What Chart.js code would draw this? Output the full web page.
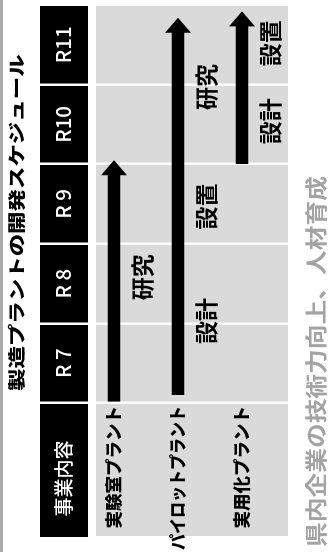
<!DOCTYPE html>
<html>
<head>
<meta charset="utf-8">
<script src="https://cdn.jsdelivr.net/npm/chart.js@4/dist/chart.umd.min.js"></script>
<style>
  html, body { margin: 0; padding: 0; background: #fff; overflow: hidden; }
  #wrap { position: relative; width: 334px; height: 552px; }
  /* chart is drawn upright and turned a quarter turn to the left */
  #schedule {
    position: absolute; left: 0; top: 0;
    width: 552px; height: 334px;
    transform-origin: 0 0;
    transform: translate(0px, 552px) rotate(-90deg);
  }
</style>
</head>
<body>
<div id="wrap"><canvas id="schedule" width="552" height="334"></canvas></div>
<script>
var rows = ['実験室プラント', 'パイロットプラント', '実用化プラント'];
var years = ['R 7', 'R 8', 'R 9', 'R10', 'R11'];
var arrowStart = [0, 0.1, 3];
var arrowEnd = [3.05, 4.84, 4.92];
var phaseRow = [0, 1, 1, 1, 2, 2];
var phaseName = ['研究', '設計', '設置', '研究', '設計', '設置'];
var phaseAt = [1.58, 1.03, 2.47, 3.97, 3.54, 4.52];
var titleText = '製造プラントの開発スケジュール';
var headText = '事業内容';
var noteText = '県内企業の技術力向上、人材育成';

var FONT = "'Noto Sans CJK JP', 'Noto Sans', sans-serif";
var HEAD_LEN = 15, HEAD_W = 26;

// text drawn a little wider than its font, as in the printed original
function wideText(ctx, text, x, y, sx) {
    ctx.save();
    ctx.translate(x, y);
    ctx.scale(sx, 1);
    ctx.fillText(text, 0, 0);
    ctx.restore();
}

var schedulePlugin = {
    id: 'schedule',

    // backgrounds: grey top rule, black header row, grey body
    beforeDraw: function (chart) {
        var ctx = chart.ctx, area = chart.chartArea;
        var y = chart.scales.y, top = chart.scales.xTop;
        ctx.save();
        ctx.fillStyle = '#ababab';
        ctx.fillRect(0, 0, chart.width, 3);
        ctx.fillStyle = '#000';
        ctx.fillRect(y.left - 1, top.top, area.right - y.left + 1, top.bottom - top.top - 8);
        ctx.fillStyle = '#dadada';
        ctx.fillRect(y.left, area.top, area.right - y.left, area.bottom - area.top);
        ctx.restore();
    },

    // clip the shafts short so the heads can sit on the end
    beforeDatasetDraw: function (chart, args) {
        if (args.index !== 0) return;
        var ctx = chart.ctx;
        ctx.save();
        ctx.beginPath();
        args.meta.data.forEach(function (bar) {
            var p = bar.getProps(['x', 'y', 'base', 'height'], true);
            ctx.rect(p.base, p.y - p.height / 2 - 1, (p.x - HEAD_LEN + 1) - p.base, p.height + 2);
        });
        ctx.clip();
    },

    afterDatasetDraw: function (chart, args) {
        var ctx = chart.ctx;
        if (args.index === 0) {
            ctx.restore();
            ctx.save();
            ctx.fillStyle = '#000';
            args.meta.data.forEach(function (bar) {
                var p = bar.getProps(['x', 'y'], true);
                ctx.beginPath();
                ctx.moveTo(p.x, p.y);
                ctx.lineTo(p.x - HEAD_LEN, p.y - HEAD_W / 2);
                ctx.lineTo(p.x - HEAD_LEN, p.y + HEAD_W / 2);
                ctx.closePath();
                ctx.fill();
            });
            ctx.restore();
        } else if (args.index === 1) {
            // phase names written at their place on the time line
            ctx.save();
            ctx.fillStyle = '#000';
            ctx.font = 'bold 23px ' + FONT;
            ctx.textAlign = 'center';
            ctx.textBaseline = 'middle';
            args.meta.data.forEach(function (bar, i) {
                var p = bar.getProps(['x', 'y'], true);
                ctx.fillText(phaseName[i], p.x, p.y);
            });
            ctx.restore();
        }
    },

    afterDraw: function (chart) {
        var ctx = chart.ctx;
        var y = chart.scales.y, top = chart.scales.xTop;
        ctx.save();
        ctx.textBaseline = 'middle';

        // row names, set just in front of each arrow (squeezed if too long)
        ctx.fillStyle = '#000';
        ctx.font = '900 17.5px ' + FONT;
        ctx.textAlign = 'right';
        rows.forEach(function (r, i) {
            ctx.fillText(r, y.right - 3, y.getPixelForTick(i) - 15, y.right - 5);
        });

        ctx.font = '900 17px ' + FONT;
        ctx.textAlign = 'left';
        wideText(ctx, titleText, 161, 17, 1.32);

        ctx.fillStyle = '#fff';
        ctx.font = '500 19px ' + FONT;
        ctx.textAlign = 'center';
        ctx.fillText(headText, (y.left + y.right) / 2 - 9, top.top + (top.bottom - top.top - 8) / 2);

        ctx.fillStyle = '#a3a3a3';
        ctx.font = 'bold 21.5px ' + FONT;
        ctx.textAlign = 'left';
        wideText(ctx, noteText, 5, 316, 1.15);
        ctx.restore();
    }
};

var arrowData = rows.map(function (r, i) {
    return [arrowStart[i], arrowEnd[i]];
});
var phaseData = phaseName.map(function (n, i) {
    return { x: [phaseAt[i], phaseAt[i]], y: rows[phaseRow[i]] };
});

var ctx = document.getElementById('schedule').getContext('2d');
var chart = new Chart(ctx, {
    type: 'bar',
    data: {
        labels: rows,
        datasets: [
            {
                data: arrowData,
                backgroundColor: '#000',
                borderWidth: 0,
                categoryPercentage: 0.875,
                barPercentage: 0.446
            },
            {
                data: phaseData,
                backgroundColor: 'rgba(0,0,0,0)',
                borderWidth: 0,
                categoryPercentage: 0.875,
                barPercentage: 0.446
            }
        ]
    },
    options: {
        indexAxis: 'y',
        responsive: false,
        animation: false,
        events: [],
        layout: { padding: { top: 40, left: 16, right: 5, bottom: 46 } },
        plugins: {
            legend: { display: false },
            tooltip: { enabled: false },
            title: { display: false }
        },
        scales: {
            x: {
                type: 'linear',
                position: 'bottom',
                min: 0,
                max: 5,
                ticks: { display: false, stepSize: 1 },
                grid: { color: '#fff', lineWidth: 2.5, drawTicks: false },
                border: { display: false },
                afterFit: function (s) { s.height = 0; }
            },
            xTop: {
                type: 'category',
                labels: years,
                position: 'top',
                offset: true,
                grid: {
                    offset: true,
                    drawOnChartArea: false,
                    drawTicks: true,
                    tickLength: 56,
                    color: '#fff',
                    lineWidth: 2.5
                },
                border: { display: false },
                ticks: {
                    color: '#fff',
                    font: { family: FONT, size: 20.5, weight: '500' },
                    padding: -36,
                    maxRotation: 0,
                    minRotation: 0,
                    autoSkip: false
                },
                afterFit: function (s) { s.height = 56; }
            },
            y: {
                grid: { display: false },
                border: { display: false },
                ticks: { display: false },
                afterFit: function (s) { s.width = 133; }
            }
        }
    },
    plugins: [schedulePlugin]
});
</script>
</body>
</html>
